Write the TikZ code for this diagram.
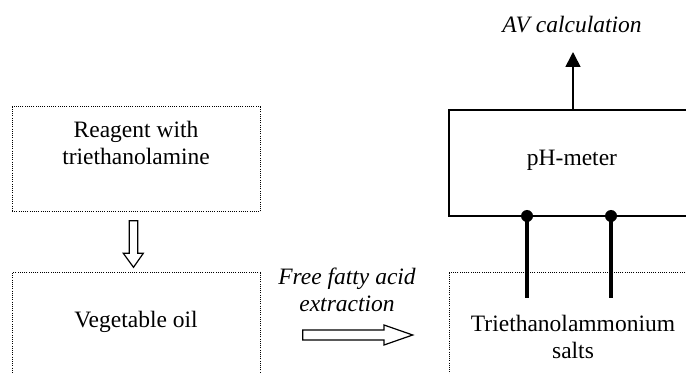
\documentclass[tikz,border=0pt]{standalone}
\usepackage{fontspec}
\setmainfont{Liberation Serif}
\usetikzlibrary{arrows.meta}
\begin{document}
\begin{tikzpicture}[x=1pt,y=-1pt,
  dotbox/.style={draw, line width=1pt, dash pattern=on 1pt off 1.2pt, rectangle, inner sep=0pt},
  solidbox/.style={draw, line width=1.5pt, rectangle, inner sep=0pt},
  txt/.style={font=\fontsize{23.5}{27}\selectfont, align=center, inner sep=0pt},
  itxt/.style={font=\fontsize{23.5}{27}\selectfont\itshape, align=center, inner sep=0pt},
  hollow/.style={draw, line width=1.2pt, fill=white, line join=miter},
  electrode/.style={line width=3.5pt},
  elecdot/.style={circle, fill=black, minimum size=12pt, inner sep=0pt}]
\useasboundingbox (0,0) rectangle (686,374);
\clip (0,0) rectangle (686,374);
% boxes
\node[dotbox, minimum width=248pt, minimum height=105pt] (reag) at (136,159.5) {};
\node[dotbox, minimum width=248pt, minimum height=120pt] (oil) at (136,333) {};
\node[dotbox, minimum width=300pt, minimum height=120pt] (salts) at (599,333) {};
\node[solidbox, minimum width=300pt, minimum height=106pt] (ph) at (599,163) {};
% texts
\node[txt] (reagtxt) at (136,143) {Reagent with\\triethanolamine};
\node[txt] (oiltxt) at (136,322) {Vegetable oil};
\node[txt] (saltstxt) at (573,337) {Triethanolammonium\\salts};
\node[txt] (phtxt) at (572,160) {pH-meter};
\node[itxt] (avtxt) at (572,25) {AV calculation};
\node[itxt] (ffatxt) at (347,290) {Free fatty acid\\extraction};
% hollow arrows
\draw[hollow] (129.3,220.7) -- (137.7,220.7) -- (137.7,253.3) -- (143.3,253.3) -- (133.5,267.3) -- (123.3,253.3) -- (129.3,253.3) -- cycle;
\draw[hollow] (302.7,330) -- (384,330) -- (384,325) -- (412.7,335) -- (384,345) -- (384,340) -- (302.7,340) -- cycle;
% AV arrow
\coordinate (phtop) at (573,110);
\coordinate (avtip) at (573,52);
\draw[line width=1.6pt, -{Triangle[length=15pt,width=15pt]}] (phtop) -- (avtip);
% electrodes
\node[elecdot] (d1) at (527,216) {};
\node[elecdot] (d2) at (611,216) {};
\coordinate (e1) at (527,298);
\coordinate (e2) at (611,298);
\draw[electrode] (d1.center) -- (e1);
\draw[electrode] (d2.center) -- (e2);
\end{tikzpicture}
\end{document}
